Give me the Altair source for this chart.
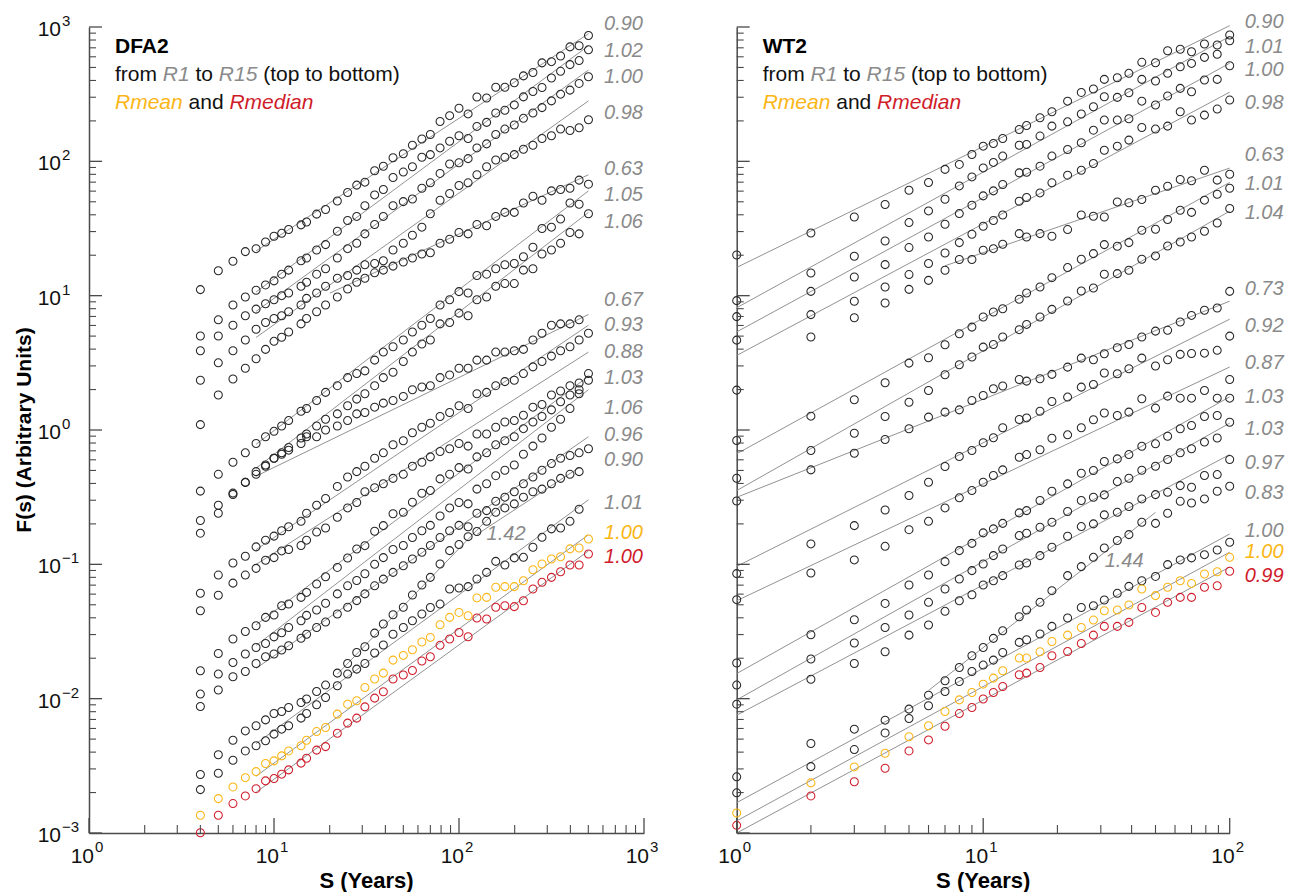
import math
import altair as alt
import pandas as pd

# ---------------- data ----------------
X_DFA = [4, 5, 6, 7, 8, 9, 10, 11, 12, 14, 15, 17, 19, 22, 25, 28, 31, 35, 39, 44, 50, 56, 63, 70,
         79, 89, 100, 112, 125, 141, 158, 177, 199, 223, 251, 281, 316, 354, 398, 446, 501]
X_WT = [1, 2, 3, 4, 5, 6, 7, 8, 9, 10, 11, 12, 14, 15, 17, 19, 22, 25, 28, 31, 35, 39, 44, 50,
        56, 63, 70, 79, 89, 100]

NAMES = ["R1", "R2", "R3", "R4", "R5", "R6", "R7", "R8", "R9", "R10", "R11", "R12", "R13",
         "R14", "R15", "Rmean", "Rmedian"]

# log10 F(s), DFA2 panel
DFA_R1 = [1.045, 1.185, 1.256, 1.328, 1.350, 1.400, 1.442, 1.464, 1.493, 1.527, 1.548, 1.607, 1.641, 1.705,
          1.768, 1.823, 1.845, 1.930, 1.963, 2.027, 2.056, 2.120, 2.166, 2.200, 2.297, 2.340, 2.395, 2.353,
          2.479, 2.471, 2.551, 2.551, 2.585, 2.636, 2.661, 2.733, 2.742, 2.784, 2.852, 2.860, 2.937]
DFA_R2 = [0.70, 0.82, 0.93, 0.99, 1.04, 1.08, 1.11, 1.16, 1.19, 1.26, 1.28, 1.34, 1.38, 1.48, 1.56, 1.59,
          1.67, 1.75, 1.79, 1.88, 1.92, 1.96, 2.03, 2.05, 2.10, 2.15, 2.19, 2.17, 2.26, 2.29, 2.36, 2.38,
          2.42, 2.48, 2.52, 2.55, 2.62, 2.67, 2.72, 2.75, 2.83]
DFA_R3 = [0.59, 0.70, 0.78, 0.85, 0.90, 0.94, 0.97, 1.00, 1.02, 1.07, 1.10, 1.16, 1.20, 1.28, 1.35, 1.39,
          1.46, 1.53, 1.59, 1.67, 1.70, 1.72, 1.80, 1.84, 1.91, 1.98, 1.99, 2.02, 2.10, 2.13, 2.20, 2.24,
          2.27, 2.32, 2.36, 2.40, 2.45, 2.50, 2.53, 2.58, 2.63]
DFA_R4 = [0.37, 0.50, 0.59, 0.67, 0.75, 0.80, 0.83, 0.85, 0.88, 0.93, 0.98, 1.02, 1.07, 1.13, 1.15, 1.19,
          1.23, 1.24, 1.26, 1.34, 1.39, 1.45, 1.51, 1.61, 1.71, 1.76, 1.82, 1.84, 1.90, 1.96, 2.01, 2.03,
          2.05, 2.09, 2.12, 2.17, 2.19, 2.24, 2.23, 2.25, 2.31]
DFA_R5 = [0.04, 0.26, 0.38, 0.46, 0.53, 0.60, 0.66, 0.69, 0.73, 0.79, 0.83, 0.88, 0.93, 0.99, 1.05, 1.10,
          1.13, 1.17, 1.19, 1.22, 1.25, 1.28, 1.31, 1.32, 1.39, 1.42, 1.47, 1.46, 1.53, 1.52, 1.59, 1.62,
          1.62, 1.69, 1.74, 1.71, 1.78, 1.79, 1.80, 1.86, 1.83]
DFA_R6 = [-0.455, -0.33, -0.24, -0.17, -0.10, -0.05, -0.01, 0.03, 0.07, 0.14, 0.16, 0.22, 0.28, 0.33, 0.39,
          0.42, 0.44, 0.52, 0.58, 0.62, 0.67, 0.73, 0.78, 0.83, 0.93, 0.97, 1.03, 1.02, 1.15, 1.16, 1.20,
          1.23, 1.24, 1.29, 1.36, 1.50, 1.51, 1.57, 1.69, 1.68, None]
DFA_R7 = [-0.674, -0.56, -0.47, -0.39, -0.33, -0.27, -0.21, -0.17, -0.13, -0.06, -0.03, 0.03, 0.08, 0.12,
          0.18, 0.23, 0.27, 0.33, 0.39, 0.43, 0.51, 0.58, 0.64, 0.67, 0.79, 0.80, 0.87, 0.85, 0.97, 0.99,
          1.07, 1.09, 1.09, 1.19, 1.20, 1.31, 1.34, 1.39, 1.47, 1.46, 1.61]
DFA_R8 = [-0.768, -0.62, -0.48, -0.39, -0.31, -0.26, -0.21, -0.18, -0.15, -0.10, -0.05, -0.05, 0.00, 0.03,
          0.07, 0.12, 0.13, 0.17, 0.20, 0.22, 0.25, 0.30, 0.32, 0.33, 0.39, 0.41, 0.46, 0.46, 0.52, 0.52,
          0.58, 0.58, 0.59, 0.60, 0.67, 0.72, 0.78, 0.79, 0.79, 0.82, None]
DFA_R9 = [-1.215, -1.08, -0.99, -0.94, -0.87, -0.82, -0.79, -0.75, -0.72, -0.68, -0.62, -0.56, -0.51, -0.42,
          -0.35, -0.31, -0.27, -0.21, -0.17, -0.11, -0.08, -0.02, 0.02, 0.05, 0.10, 0.13, 0.18, 0.16, 0.27,
          0.28, 0.33, 0.36, 0.37, 0.42, 0.47, 0.51, 0.55, 0.59, 0.62, 0.67, 0.72]
DFA_R10 = [-1.345, -1.23, -1.14, -1.08, -1.03, -0.97, -0.95, -0.90, -0.89, -0.86, -0.82, -0.76, -0.73, -0.65,
           -0.58, -0.54, -0.46, -0.43, -0.40, -0.36, -0.33, -0.27, -0.24, -0.20, -0.16, -0.14, -0.10, -0.12,
           -0.03, -0.03, 0.02, 0.06, 0.07, 0.11, 0.17, 0.19, 0.26, 0.29, 0.33, 0.35, 0.42]
DFA_R11 = [-1.792, -1.664, -1.556, -1.50, -1.457, -1.395, -1.377, -1.308, -1.295, -1.246, -1.209, -1.146,
           -1.092, -1.023, -0.953, -0.886, -0.861, -0.754, -0.712, -0.624, -0.613, -0.538, -0.471, -0.451,
           -0.364, -0.33, -0.28, -0.29, -0.20, -0.17, -0.11, -0.08, -0.05, 0.01, 0.06, 0.10, 0.15, 0.21,
           0.26, 0.30, 0.37]
DFA_R12 = [-1.966, -1.817, -1.731, -1.668, -1.619, -1.589, -1.54, -1.51, -1.47, -1.42, -1.38, -1.34, -1.29,
           -1.22, -1.16, -1.12, -1.07, -1.00, -0.95, -0.89, -0.86, -0.80, -0.75, -0.71, -0.64, -0.58, -0.54,
           -0.55, -0.44, -0.40, -0.34, -0.30, -0.26, -0.18, -0.12, -0.06, 0.02, 0.08, 0.16, 0.27, None]
DFA_R13 = [-2.058, -1.936, -1.837, -1.798, -1.738, -1.688, -1.668, -1.638, -1.606, -1.55, -1.52, -1.47,
           -1.43, -1.37, -1.32, -1.27, -1.22, -1.16, -1.11, -1.06, -1.01, -0.96, -0.91, -0.86, -0.80, -0.75,
           -0.71, -0.72, -0.62, -0.60, -0.53, -0.50, -0.46, -0.40, -0.35, -0.30, -0.25, -0.21, -0.19, -0.17,
           -0.14]
DFA_R14 = [-2.564, -2.418, -2.309, -2.24, -2.202, -2.158, -2.11, -2.096, -2.066, -2.029, -2.003, -1.947,
           -1.899, -1.81, -1.738, -1.656, -1.614, -1.512, -1.444, -1.375, -1.32, -1.228, -1.154, -1.097,
           -0.997, -0.898, -0.853, -0.794, -0.756, -0.68, -0.613, -0.58, -0.55, -0.50, -0.46, -0.44, -0.40,
           -0.36, -0.33, -0.31, None]
DFA_R15 = [-2.677, -2.555, -2.458, -2.389, -2.351, -2.314, -2.264, -2.227, -2.202, -2.145, -2.11, -2.046,
           -1.991, -1.904, -1.817, -1.78, -1.738, -1.66, -1.60, -1.52, -1.47, -1.42, -1.37, -1.321, -1.296,
           -1.184, -1.176, -1.166, -1.109, -1.06, -0.978, -1.005, -0.952, -0.948, -0.873, -0.799, -0.736,
           -0.729, -0.68, -0.59, None]
DFA_RMEAN = [-2.868, -2.744, -2.657, -2.588, -2.543, -2.483, -2.463, -2.426, -2.389, -2.351, -2.309, -2.245,
             -2.215, -2.115, -2.041, -2.016, -1.917, -1.854, -1.81, -1.713, -1.678, -1.636, -1.578, -1.544,
             -1.45, -1.395, -1.358, -1.383, -1.25, -1.246, -1.171, -1.166, -1.166, -1.122, -1.04, -0.997,
             -0.96, -0.943, -0.885, -0.878, -0.811]
DFA_RMEDIAN = [-2.998, -2.868, -2.781, -2.724, -2.67, -2.612, -2.595, -2.562, -2.53, -2.48, -2.443, -2.383,
               -2.357, -2.257, -2.182, -2.145, -2.061, -1.996, -1.949, -1.854, -1.824, -1.79, -1.72, -1.688,
               -1.603, -1.556, -1.507, -1.539, -1.4, -1.407, -1.32, -1.308, -1.315, -1.271, -1.184, -1.134,
               -1.097, -1.055, -1.005, -1.005, -0.923]

# log10 F(s), WT2 panel
WT_R1 = [1.303, 1.467, 1.586, 1.679, 1.785, 1.842, 1.94, 1.977, 2.051, 2.113, 2.133, 2.17, 2.237, 2.267,
         2.324, 2.369, 2.448, 2.513, 2.538, 2.610, 2.622, 2.655, 2.737, 2.734, 2.823, 2.834, 2.816, 2.873,
         2.866, 2.94]
WT_R2 = [0.963, 1.169, 1.293, 1.407, 1.544, 1.631, 1.718, 1.817, 1.884, 1.951, 1.992, 2.039, 2.12, 2.126,
         2.188, 2.262, 2.294, 2.352, 2.406, 2.481, 2.476, 2.51, 2.61, 2.598, 2.655, 2.704, 2.729, 2.774,
         2.797, 2.898]
WT_R3 = [0.844, 1.032, 1.139, 1.231, 1.358, 1.437, 1.532, 1.611, 1.673, 1.743, 1.78, 1.828, 1.914, 1.919,
         1.964, 2.039, 2.088, 2.138, 2.232, 2.307, 2.307, 2.317, 2.448, 2.419, 2.486, 2.543, 2.518, 2.605,
         2.61, 2.712]
WT_R4 = [0.669, 0.859, 0.958, 1.064, 1.157, 1.239, 1.318, 1.395, 1.457, 1.517, 1.56, 1.60, 1.703, 1.731,
         1.765, 1.84, 1.897, 1.934, 1.984, 2.083, 2.113, 2.158, 2.252, 2.24, 2.262, 2.369, 2.307, 2.344,
         2.389, 2.456]
WT_R5 = [0.297, 0.692, 0.836, 0.945, 1.047, 1.114, 1.189, 1.269, 1.269, 1.338, 1.35, 1.383, 1.462, 1.437,
         1.462, 1.442, 1.492, 1.601, 1.591, 1.586, 1.698, 1.691, 1.716, 1.785, 1.815, 1.865, 1.855, 1.934,
         1.86, 1.904]
WT_R6 = [-0.078, 0.103, 0.225, 0.352, 0.498, 0.538, 0.635, 0.717, 0.766, 0.841, 0.878, 0.903, 0.973, 1.02,
         1.064, 1.134, 1.209, 1.271, 1.313, 1.38, 1.368, 1.395, 1.487, 1.494, 1.567, 1.636, 1.62, 1.711,
         1.755, 1.80]
WT_R7 = [-0.359, -0.153, -0.024, 0.1, 0.207, 0.294, 0.411, 0.486, 0.543, 0.617, 0.637, 0.692, 0.747, 0.786,
         0.841, 0.898, 0.96, 1.035, 1.057, 1.159, 1.164, 1.189, 1.271, 1.296, 1.37, 1.40, 1.437, 1.48, 1.541,
         1.649]
WT_R8 = [-0.528, -0.297, -0.173, -0.071, 0.009, 0.096, 0.133, 0.15, 0.22, 0.257, 0.307, 0.327, 0.376, 0.364,
         0.382, 0.414, 0.468, 0.535, 0.523, 0.568, 0.613, 0.637, 0.692, 0.736, 0.742, 0.804, 0.853, 0.891,
         0.908, 1.032]
WT_R9 = [-1.069, -0.848, -0.712, -0.595, -0.488, -0.389, -0.272, -0.197, -0.153, -0.095, -0.058, 0.017,
         0.078, 0.09, 0.14, 0.212, 0.245, 0.319, 0.339, 0.424, 0.419, 0.456, 0.535, 0.476, 0.523, 0.563,
         0.57, 0.572, 0.593, 0.699]
WT_R10 = [-1.263, -1.064, -0.967, -0.866, -0.742, -0.68, -0.58, -0.505, -0.451, -0.389, -0.339, -0.297,
          -0.203, -0.183, -0.147, -0.061, -0.036, 0.017, 0.076, 0.126, 0.108, 0.133, 0.233, 0.163, 0.252,
          0.237, 0.237, 0.294, 0.237, 0.376]
WT_R11 = [-1.735, -1.524, -1.412, -1.291, -1.154, -1.079, -0.98, -0.898, -0.844, -0.766, -0.736, -0.695,
          -0.617, -0.60, -0.525, -0.456, -0.401, -0.322, -0.302, -0.235, -0.215, -0.183, -0.121, -0.103,
          -0.046, 0.009, 0.034, 0.10, 0.108, 0.237]
WT_R12 = [-1.899, -1.705, -1.586, -1.47, -1.377, -1.283, -1.184, -1.109, -1.047, -0.997, -0.935, -0.886,
          -0.786, -0.769, -0.724, -0.687, -0.607, -0.525, -0.501, -0.483, -0.384, -0.359, -0.30, -0.27,
          -0.22, -0.17, -0.14, -0.09, -0.06, 0.058]
WT_R13 = [-2.041, -1.855, -1.738, -1.651, -1.527, -1.452, -1.35, -1.271, -1.226, -1.154, -1.122, -1.084,
          -1.005, -0.99, -0.935, -0.873, -0.791, -0.719, -0.699, -0.632, -0.613, -0.57, -0.513, -0.481,
          -0.464, -0.414, -0.426, -0.339, -0.332, -0.22]
WT_R14 = [-2.582, -2.334, -2.227, -2.16, -2.078, -1.974, -1.867, -1.768, -1.681, -1.619, -1.551, -1.494,
          -1.39, -1.34, -1.283, -1.196, -1.084, -1.017, -0.948, -0.878, -0.823, -0.779, -0.687, -0.695,
          -0.62, -0.531, -0.543, -0.513, -0.456, -0.419]
WT_R15 = [-2.701, -2.506, -2.379, -2.255, -2.148, -2.053, -1.947, -1.872, -1.798, -1.75, -1.713, -1.656,
          -1.581, -1.561, -1.519, -1.462, -1.40, -1.321, -1.308, -1.266, -1.216, -1.164, -1.122, -1.09,
          -1.002, -0.967, -0.952, -0.928, -0.893, -0.836]
WT_RMEAN = [-2.851, -2.627, -2.508, -2.406, -2.284, -2.202, -2.096, -2.009, -1.954, -1.892, -1.847, -1.792,
            -1.698, -1.698, -1.651, -1.574, -1.527, -1.47, -1.415, -1.345, -1.34, -1.303, -1.184, -1.233,
            -1.171, -1.122, -1.142, -1.072, -1.055, -0.948]
WT_RMEDIAN = [-2.943, -2.724, -2.618, -2.518, -2.389, -2.307, -2.205, -2.111, -2.066, -2.003, -1.954,
              -1.909, -1.822, -1.81, -1.768, -1.681, -1.649, -1.589, -1.527, -1.462, -1.462, -1.432, -1.321,
              -1.358, -1.283, -1.246, -1.246, -1.171, -1.159, -1.052]

DFA = [DFA_R1, DFA_R2, DFA_R3, DFA_R4, DFA_R5, DFA_R6, DFA_R7, DFA_R8, DFA_R9, DFA_R10, DFA_R11,
       DFA_R12, DFA_R13, DFA_R14, DFA_R15, DFA_RMEAN, DFA_RMEDIAN]
WT = [WT_R1, WT_R2, WT_R3, WT_R4, WT_R5, WT_R6, WT_R7, WT_R8, WT_R9, WT_R10, WT_R11, WT_R12, WT_R13,
      WT_R14, WT_R15, WT_RMEAN, WT_RMEDIAN]

# fitted scaling exponents (labels) and fit-line extents
DFA_SLOPE = [0.90, 1.02, 1.00, 0.98, 0.63, 1.05, 1.06, 0.67, 0.93, 0.88, 1.03, 1.06, 0.96, 0.90, 1.01, 1.00, 1.00]
DFA_FIT_X0 = [8, 8, 8, 8, 20, 8, 8, 8, 8, 8, 8, 8, 8, 125, 8, 8, 8]
DFA_FIT_X1 = [501, 501, 501, 501, 501, 501, 501, 501, 501, 501, 501, 501, 501, 446, 501, 501, 501]
DFA_FIT_END = [2.95, 2.86, 2.68, 2.45, 1.90, 1.78, 1.62, 0.86, 0.78, 0.58, 0.40, 0.30, -0.05, -0.28, -0.52, -0.78, -0.90]
DFA_LABEL_Y = [3.02, 2.82, 2.63, 2.36, 1.94, 1.75, 1.55, 0.965, 0.783, 0.58, 0.389, 0.164, -0.036, -0.227, -0.54, -0.765, -0.947]
DFA_EXTRA = {"slope": 1.42, "x0": 22, "x1": 177, "end": -0.531, "lx": 141, "ly": -0.774}

WT_SLOPE = [0.90, 1.01, 1.00, 0.98, 0.63, 1.01, 1.04, 0.73, 0.92, 0.87, 1.03, 1.03, 0.97, 0.83, 1.00, 1.00, 0.99]
WT_FIT_X0 = [1, 1, 1, 1, 7, 1, 1, 1, 1, 1, 1, 1, 1, None, 1, 1, 1]
WT_FIT_X1 = [100] * 17
WT_FIT_END = [3.01, 2.93, 2.73, 2.515, 1.95, 1.843, 1.629, 0.959, 0.825, 0.469, 0.247, 0.051, -0.183, None, -0.774, -0.91, -1.02]
WT_LABEL_Y = [3.037, 2.851, 2.68, 2.434, 2.046, 1.83, 1.614, 1.047, 0.771, 0.496, 0.242, 0.011, -0.242, -0.472, -0.749, -0.905, -1.084]
WT_EXTRA = {"slope": 1.44, "x0": 6, "x1": 50, "end": -0.613, "lx": 31.1, "ly": -0.973}

# ---------------- style ----------------
BLACK = "#262626"
GRAY_LINE = "#929292"
GRAY_TXT = "#8a8a8a"
ORANGE = "#FBB616"
RED = "#D01C2A"
AXIS = "#4a4a4a"
FONT = "Liberation Sans"
H = 806
W_L = 555
W_R = 493

CSCALE = alt.Scale(domain=["black", "mean", "median", "gray"], range=[BLACK, ORANGE, RED, GRAY_TXT])
DUMMY = pd.DataFrame({"d": [0]})

AW = {' ': 278, '(': 333, ')': 333, '1': 556, '5': 556, 'R': 722, 'a': 556, 'b': 556, 'd': 556, 'e': 556,
      'f': 278, 'i': 222, 'm': 833, 'n': 556, 'o': 556, 'p': 556, 'r': 333, 't': 278}


def tw(s, size):
    return sum(AW.get(c, 556) for c in s) * size / 1000.0


def grp(name):
    return "mean" if name == "Rmean" else ("median" if name == "Rmedian" else "black")


def points_df(xs, series):
    rows = []
    for name, vals in zip(NAMES, series):
        for x, v in zip(xs, vals):
            if v is None:
                continue
            rows.append({"s": name, "x": x, "F": 10 ** v, "g": grp(name)})
    return pd.DataFrame(rows)


def fit_df(slopes, x0s, x1s, ends, extra):
    rows = []
    items = list(zip(slopes, x0s, x1s, ends)) + [(extra["slope"], extra["x0"], extra["x1"], extra["end"])]
    for i, (s, a, b, e) in enumerate(items):
        if a is None:
            continue
        start = e - s * (math.log10(b) - math.log10(a))
        rows.append({"id": i, "x": a, "F": 10 ** start})
        rows.append({"id": i, "x": b, "F": 10 ** e})
    return pd.DataFrame(rows)


def label_df(slopes, ys, lx, extra):
    rows = []
    for name, s, y in zip(NAMES, slopes, ys):
        g = grp(name)
        rows.append({"x": lx, "F": 10 ** y, "t": f"{s:.2f}", "g": "gray" if g == "black" else g})
    rows.append({"x": extra["lx"], "F": 10 ** extra["ly"], "t": f"{extra['slope']:.2f}", "g": "gray"})
    return pd.DataFrame(rows)


def txt(x, y, s, color="#000000", size=21, weight="normal", style="normal", align="left",
        baseline="alphabetic", angle=None):
    kw = dict(align=align, baseline=baseline, font=FONT, fontSize=size, fontWeight=weight,
              fontStyle=style, color=color)
    if angle is not None:
        kw["angle"] = angle
    return alt.Chart(DUMMY).mark_text(**kw).encode(x=alt.value(x), y=alt.value(y), text=alt.value(s))


def sup(k):
    return str(k).replace("-", "\u2212")


def panel(xs, series, slopes, x0s, x1s, ends, label_ys, label_x, extra, xdomain, width, xmajor,
          method, ylabels):
    sx = alt.Scale(type="log", domain=xdomain, nice=False)
    sy = alt.Scale(type="log", domain=[1e-3, 1e3], nice=False)
    axd = dict(labels=False, ticks=False, grid=False, title=None, domainColor=AXIS, domainWidth=1.5)
    ex = alt.X("x:Q", scale=sx, axis=alt.Axis(**axd))
    ey = alt.Y("F:Q", scale=sy, axis=alt.Axis(**axd))
    col = alt.Color("g:N", scale=CSCALE, legend=None)

    layers = []
    layers.append(alt.Chart(fit_df(slopes, x0s, x1s, ends, extra)).mark_line(
        color=GRAY_LINE, strokeWidth=1).encode(x=ex, y=ey, detail="id:N"))
    layers.append(alt.Chart(points_df(xs, series)).mark_point(
        shape="circle", filled=False, size=64, strokeWidth=1.05, opacity=1).encode(x=ex, y=ey, color=col))
    layers.append(alt.Chart(label_df(slopes, label_ys, label_x, extra)).mark_text(
        align="left", baseline="middle", font=FONT, fontSize=20, fontStyle="italic").encode(
        x=ex, y=ey, text="t:N", color=col))

    # inward ticks
    ymaj = pd.DataFrame({"F": [10.0 ** k for k in range(-3, 4)]})
    ymin = pd.DataFrame({"F": [m * 10.0 ** k for k in range(-3, 3) for m in range(2, 10)]})
    xmaj = pd.DataFrame({"x": xmajor})
    xmin = pd.DataFrame({"x": [m * v for v in xmajor[:-1] for m in range(2, 10)]})
    layers.append(alt.Chart(ymaj).mark_rule(color=AXIS, strokeWidth=1.3).encode(
        y=ey, x=alt.value(0), x2=alt.value(13)))
    layers.append(alt.Chart(ymin).mark_rule(color=AXIS, strokeWidth=1.1).encode(
        y=ey, x=alt.value(0), x2=alt.value(7)))
    layers.append(alt.Chart(xmaj).mark_rule(color=AXIS, strokeWidth=1.3).encode(
        x=ex, y=alt.value(H), y2=alt.value(H - 15)))
    layers.append(alt.Chart(xmin).mark_rule(color=AXIS, strokeWidth=1.1).encode(
        x=ex, y=alt.value(H), y2=alt.value(H - 8)))

    # tick labels 10^k
    xl = pd.DataFrame({"x": xmajor, "e": [sup(int(round(math.log10(v)))) for v in xmajor]})
    layers.append(alt.Chart(xl).mark_text(align="right", baseline="alphabetic", dx=5, font=FONT,
                                          fontSize=21, color="#111111").encode(
        x=ex, y=alt.value(H + 30), text=alt.value("10")))
    layers.append(alt.Chart(xl).mark_text(align="left", baseline="alphabetic", dx=6, font=FONT,
                                          fontSize=15, color="#111111").encode(
        x=ex, y=alt.value(H + 19), text="e:N"))
    if ylabels:
        yl = pd.DataFrame({"F": [10.0 ** k for k in range(-3, 4)], "e": [sup(k) for k in range(-3, 4)]})
        layers.append(alt.Chart(yl).mark_text(align="right", baseline="middle", dy=3, font=FONT,
                                              fontSize=21, color="#111111").encode(
            y=ey, x=alt.value(-28), text=alt.value("10")))
        layers.append(alt.Chart(yl).mark_text(align="left", baseline="middle", dy=-6, font=FONT,
                                              fontSize=15, color="#111111").encode(
            y=ey, x=alt.value(-27), text="e:N"))
        layers.append(txt(-64, H / 2, "F(s) (Arbitrary Units)", size=21, weight="bold",
                          align="center", baseline="middle", angle=270))
    layers.append(txt(width / 2, H + 55, "S (Years)", size=22, weight="bold", align="center"))

    # annotation block
    fs = 21
    x0 = 26
    layers.append(txt(x0, 26, method, size=fs, weight="bold"))
    segs2 = [("from", "#111111", "normal", "from "), ("R1", GRAY_TXT, "italic", "R1 "),
             ("to", "#111111", "normal", "to "), ("R15", GRAY_TXT, "italic", "R15 "),
             ("(top to bottom)", "#111111", "normal", "")]
    cx = x0
    for s, c, st, adv in segs2:
        layers.append(txt(cx, 54, s, color=c, style=st, size=fs))
        cx += tw(adv, fs)
    segs3 = [("Rmean", ORANGE, "italic", "Rmean "), ("and", "#111111", "normal", "and "),
             ("Rmedian", RED, "italic", "")]
    cx = x0
    for s, c, st, adv in segs3:
        layers.append(txt(cx, 82, s, color=c, style=st, size=fs))
        cx += tw(adv, fs)

    return alt.layer(*layers).properties(width=width, height=H)


left = panel(X_DFA, DFA, DFA_SLOPE, DFA_FIT_X0, DFA_FIT_X1, DFA_FIT_END, DFA_LABEL_Y, 608, DFA_EXTRA,
             [1, 1000], W_L, [1, 10, 100, 1000], "DFA2", True)
right = panel(X_WT, WT, WT_SLOPE, WT_FIT_X0, WT_FIT_X1, WT_FIT_END, WT_LABEL_Y, 115, WT_EXTRA,
              [1, 100], W_R, [1, 10, 100], "WT2", False)

chart = alt.hconcat(left, right, spacing=92.7, bounds="flush").properties(
    padding={"left": 14, "top": 12, "right": 5, "bottom": 3},
    background="white",
).configure_view(stroke=None)

chart.save("out.html", embed_options={"renderer": "svg", "actions": False})
